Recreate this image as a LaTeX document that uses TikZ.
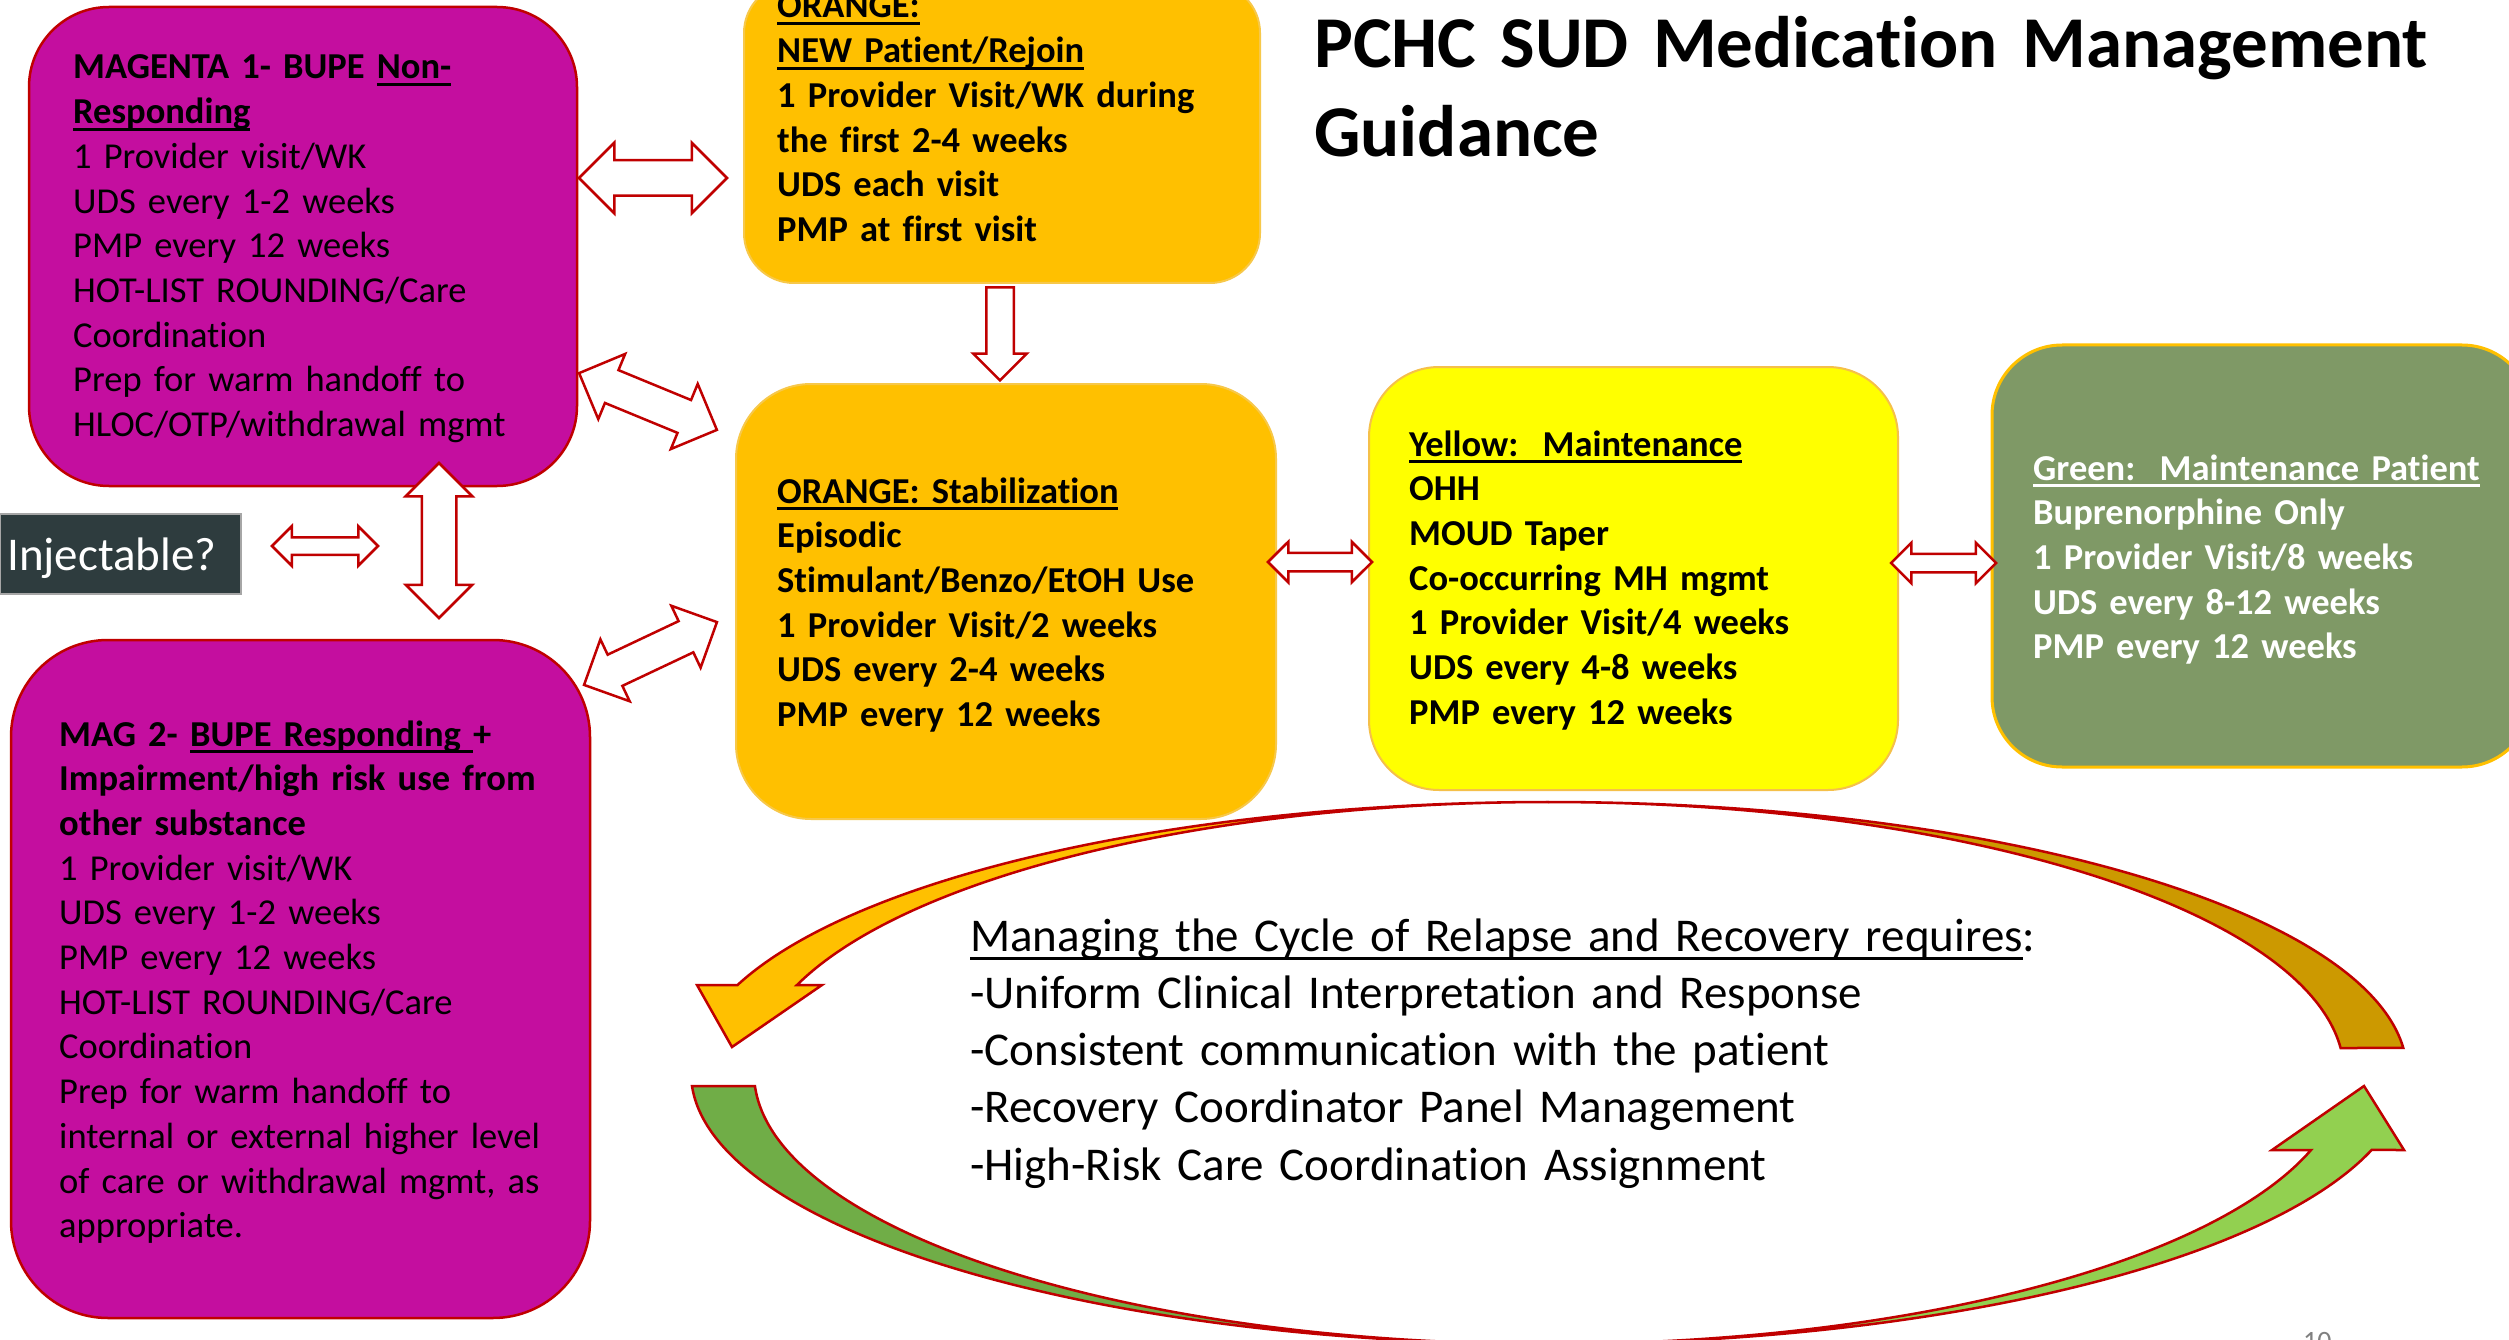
\documentclass[tikz,border=0pt]{standalone}
\usepackage{fontspec}
\setmainfont{Carlito}[Ligatures=NoCommon]
\usetikzlibrary{shapes.arrows}
\definecolor{magfill}{HTML}{C40E9F}
\definecolor{darkred}{HTML}{C00000}
\definecolor{orfill}{HTML}{FFC000}
\definecolor{orline}{HTML}{F7C84A}
\definecolor{yelfill}{HTML}{FFFF00}
\definecolor{yelline}{HTML}{F5C04A}
\definecolor{grnfill}{HTML}{7F9966}
\definecolor{grnline}{HTML}{FFC000}
\definecolor{injfill}{HTML}{2E3C3E}
\definecolor{goldarc}{HTML}{CC9900}
\definecolor{greenA}{HTML}{70AD47}
\definecolor{greenB}{HTML}{92D050}
\newcommand\myul[1]{\leavevmode\setbox0\hbox{#1}\rlap{\rule[-0.2em]{\wd0}{0.08em}}\box0}
\begin{document}
\begin{tikzpicture}[x=1pt,y=-1pt,
  boxmag/.style={draw=darkred, fill=magfill, line width=2.5pt, inner sep=0pt},
  boxor/.style={draw=orline, fill=orfill, line width=2pt, inner sep=0pt},
  boxyel/.style={draw=yelline, fill=yelfill, line width=2pt, inner sep=0pt},
  boxgrn/.style={draw=grnline, fill=grnfill, line width=3pt, inner sep=0pt},
  boxinj/.style={draw=gray!70, fill=injfill, line width=1.5pt, inner sep=0pt},
  txt/.style={anchor=base west, inner sep=0pt, text width=#1},
  bodyfont/.style={font=\fontsize{36.5}{44.7}\selectfont},
  dbl/.style={double arrow, draw=darkred, fill=white, line width=2.5pt, inner sep=0pt, double arrow head indent=0pt},
  sgl/.style={single arrow, draw=darkred, fill=white, line width=2.5pt, inner sep=0pt, single arrow head indent=0pt},
  cyc/.style={draw=darkred, line width=2.5pt, line join=miter}
]
\useasboundingbox (0,0) rectangle (2509,1340);
\fill[white] (0,0) rectangle (2509,1340);

% boxes
\node[boxmag, rounded corners=80pt, minimum width=548pt, minimum height=479pt] (mag1) at (303,246.5) {};
\node[boxmag, rounded corners=97pt, minimum width=579pt, minimum height=678pt] (mag2) at (300.5,979) {};
\node[boxor, rounded corners=50pt, minimum width=516pt, minimum height=300pt] (newp) at (1002,133) {};
\node[boxor, rounded corners=75pt, minimum width=540pt, minimum height=435pt] (stab) at (1006,601.5) {};
\node[boxyel, rounded corners=70pt, minimum width=529pt, minimum height=423pt] (yel) at (1633.5,578.5) {};
\node[boxgrn, rounded corners=70pt, minimum width=540pt, minimum height=422pt] (grn) at (2262,556) {};
\node[boxinj, minimum width=241pt, minimum height=80pt] (inj) at (120.5,554) {};

% texts
\node[txt=520pt, bodyfont] (mag1t) at (73,79) {%
\textbf{MAGENTA 1- BUPE \myul{Non-}}\\
\textbf{\myul{Responding}}\\
1 Provider visit/WK\\
UDS every 1-2 weeks\\
PMP every 12 weeks\\
HOT-LIST ROUNDING/Care\\
Coordination\\
Prep for warm handoff to\\
HLOC/OTP/withdrawal mgmt};

\node[txt=540pt, bodyfont] (mag2t) at (59,746) {%
\textbf{MAG 2- \myul{BUPE Responding\ }+}\\
\textbf{Impairment/high risk use from}\\
\textbf{other substance}\\
1 Provider visit/WK\\
UDS every 1-2 weeks\\
PMP every 12 weeks\\
HOT-LIST ROUNDING/Care\\
Coordination\\
Prep for warm handoff to\\
internal or external higher level\\
of care or withdrawal mgmt, as\\
appropriate.};

\node[txt=480pt, bodyfont] (newpt) at (777,18) {\bfseries
\myul{ORANGE:}\\
\myul{NEW Patient/Rejoin}\\
1 Provider Visit/WK during\\
the first 2-4 weeks\\
UDS each visit\\
PMP at first visit};

\node[txt=490pt, bodyfont] (stabt) at (777,503) {\bfseries
\myul{ORANGE: Stabilization}\\
Episodic\\
Stimulant/Benzo/EtOH Use\\
1 Provider Visit/2 weeks\\
UDS every 2-4 weeks\\
PMP every 12 weeks};

\node[txt=480pt, bodyfont] (yelt) at (1409,456) {\bfseries
\myul{Yellow:\ \ Maintenance}\\
OHH\\
MOUD Taper\\
Co-occurring MH mgmt\\
1 Provider Visit/4 weeks\\
UDS every 4-8 weeks\\
PMP every 12 weeks};

\node[txt=480pt, bodyfont, text=white] (grnt) at (2033,480) {\bfseries
\myul{Green:\ \ Maintenance Patient}\\
Buprenorphine Only\\
1 Provider Visit/8 weeks\\
UDS every 8-12 weeks\\
PMP every 12 weeks};

\node[txt=240pt, font=\fontsize{47}{56}\selectfont, text=white] (injt) at (7,570) {Injectable?};

\node[txt=1200pt, font=\bfseries\fontsize{73}{89}\selectfont] (title) at (1314,68) {PCHC SUD Medication Management\\Guidance};

\node[txt=1200pt, font=\fontsize{47}{57.3}\selectfont] (cyct) at (970,951) {%
\myul{Managing the Cycle of Relapse and Recovery requires}:\\
-Uniform Clinical Interpretation and Response\\
-Consistent communication with the patient\\
-Recovery Coordinator Panel Management\\
-High-Risk Care Coordination Assignment};

\node[txt=100pt, font=\fontsize{28}{30}\selectfont, text=gray] (pnum) at (2303,1350) {10};

% block arrows
\node[dbl, minimum height=148pt, inner ysep=16.5pt, double arrow head extend=17.5pt] (a1) at (653,178) {};
\node[dbl, minimum height=149pt, inner ysep=16.5pt, double arrow head extend=17.5pt, rotate=-22.4] (a2) at (648,401.5) {};
\node[dbl, minimum height=155pt, inner ysep=16pt, double arrow head extend=16pt, rotate=90] (a3) at (439,540.5) {};
\node[dbl, minimum height=106pt, inner ysep=7.5pt, double arrow head extend=11pt] (a4) at (325,546) {};
\node[dbl, minimum height=147pt, inner ysep=16pt, double arrow head extend=17pt, rotate=25.3] (a5) at (650.5,653.5) {};
\node[sgl, minimum height=93pt, inner ysep=12.5pt, single arrow head extend=13pt, rotate=-90] (a6) at (1000,327) {};
\node[dbl, minimum height=104pt, inner ysep=8pt, double arrow head extend=11pt] (a7) at (1320,562) {};
\node[dbl, minimum height=105pt, inner ysep=8pt, double arrow head extend=11pt] (a8) at (1943.5,563) {};

% cycle arrows
\draw[cyc, fill=orfill] (1549,802) arc[start angle=270, end angle=198.95, x radius=858, y radius=271]
  -- (697,985) -- (732,1047) -- (822,985) -- (797,985)
  arc[start angle=198.95, end angle=270, x radius=795, y radius=271] -- cycle;
\draw[cyc, fill=goldarc] (1549,802) arc[start angle=270, end angle=354.7, x radius=858, y radius=271]
  -- (2340.6,1048) arc[start angle=354.7, end angle=270, x radius=795, y radius=271] -- cycle;
\draw[cyc, fill=greenA] (692,1086) arc[start angle=177.25, end angle=90, x radius=858, y radius=271]
  arc[start angle=90, end angle=177.25, x radius=795, y radius=271] -- cycle;
\draw[cyc, fill=greenB] (1549,1344) arc[start angle=90, end angle=16.5, x radius=858, y radius=271]
  -- (2404,1150) -- (2364,1086) -- (2272,1150) -- (2311,1150)
  arc[start angle=16.5, end angle=90, x radius=795, y radius=271] -- cycle;
\end{tikzpicture}
\end{document}
